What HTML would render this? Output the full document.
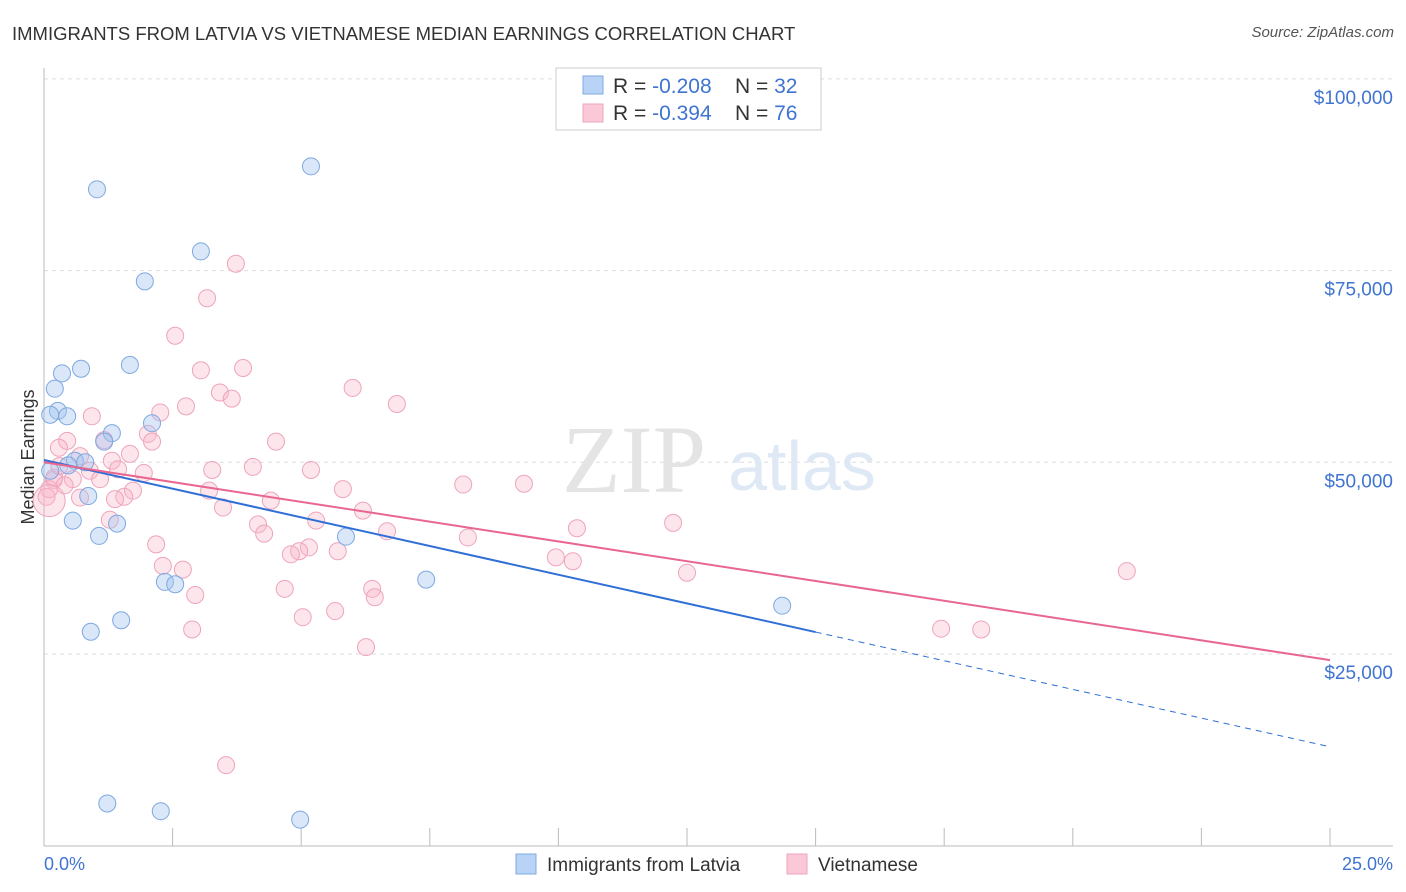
<!DOCTYPE html>
<html><head><meta charset="utf-8">
<style>
body{margin:0;background:#fff;font-family:"Liberation Sans",sans-serif;}
#wrap{position:relative;width:1406px;height:892px;overflow:hidden;}
.t{position:absolute;white-space:nowrap;}
</style></head>
<body>
<div id="wrap">
<div class="t" style="left:12px;top:23px;font-size:18.5px;color:#333;">IMMIGRANTS FROM LATVIA VS VIETNAMESE MEDIAN EARNINGS CORRELATION CHART</div>
<div class="t" style="right:12px;top:24px;font-size:15px;color:#555;font-style:italic;">Source: ZipAtlas.com</div>
<svg id="svg" width="1406" height="892" style="position:absolute;left:0;top:0"></svg>
</div>
<script>
const xTicksPct=[0,2.5,5,7.5,10,12.5,15,17.5,20,22.5,25];
const yTicks=[25000,50000,75000,100000];
const yTickLabels=["$25,000","$50,000","$75,000","$100,000"];
const latviaX=[1.03,5.19,3.05,1.96,1.67,0.72,0.35,0.21,0.27,0.12,0.45,2.1,1.32,1.17,0.6,0.8,0.47,0.12,0.86,0.56,1.42,1.07,5.87,2.35,2.55,7.43,14.35,1.5,0.91,1.23,2.27,4.98];
const latviaY=[85600,88600,77500,73600,62700,62200,61600,59600,56700,56200,56000,55100,53800,52700,50200,50000,49600,48900,45600,42400,42000,40400,40300,34400,34100,34700,31300,29400,27900,5500,4500,3400];
const vietX=[3.73,3.17,2.55,3.87,3.05,6.0,3.42,3.65,6.86,2.76,2.26,0.93,2.02,0.45,4.51,2.1,1.17,0.29,1.67,0.7,1.32,3.27,4.06,5.19,1.44,1.94,0.89,0.56,1.09,0.19,8.15,9.33,5.81,3.21,1.73,1.56,0.7,4.41,1.38,6.2,3.48,5.29,1.28,4.16,4.28,6.67,10.36,12.23,8.24,2.18,5.15,4.96,4.8,5.71,9.95,10.28,2.31,2.7,12.5,21.05,4.68,6.38,2.94,6.43,5.66,5.03,2.88,17.44,18.22,6.26,3.54,0.1,0.2,0.4,0.05,0.3];
const vietY=[75900,71400,66500,62300,62000,59700,59100,58300,57600,57300,56500,56000,53700,52800,52700,52700,52900,51900,51100,50800,50200,49000,49400,49000,49100,48600,48900,47800,47800,47700,47100,47200,46500,46300,46300,45500,45400,45000,45200,43700,44100,42400,42500,41900,40700,41000,41400,42100,40200,39300,38900,38400,38000,38400,37600,37100,36500,36000,35600,35800,33500,33500,32700,32400,30600,29800,28200,28300,28200,25900,10500,46500,48000,47000,45500,49500];
const trendBlue=[50300,12900];   // at 0% and 25%
const trendPink=[50000,24200];
const svg=document.getElementById('svg');const NS='http://www.w3.org/2000/svg';
const X=v=>44+v*51.44, Y=v=>654-(v-25000)*191.7/25000;
function mk(tag,at,name){const e=document.createElementNS(NS,tag);for(const k in at)e.setAttribute(k,at[k]);


svg.appendChild(e);return e;}
yTicks.forEach((v,i)=>{mk('line',{x1:44,x2:1393,y1:Y(v),y2:Y(v),stroke:'#ddd','stroke-dasharray':'4,4'},'gridline');
const t=mk('text',{x:1393,y:Y(v)+25,'text-anchor':'end','font-size':19,fill:'#3f74d1','font-family':'Liberation Sans'},'y-tick-label');t.textContent=yTickLabels[i];});
mk('line',{x1:44,x2:44,y1:68,y2:846,stroke:'#bbb'},'y-axis');
mk('line',{x1:44,x2:1393,y1:846,y2:846,stroke:'#bbb'},'x-axis');
xTicksPct.forEach(v=>mk('line',{x1:X(v),x2:X(v),y1:828,y2:846,stroke:'#bbb'},'x-tick'));
let t=mk('text',{x:44,y:870,'font-size':18,fill:'#3f74d1','font-family':'Liberation Sans'},'x-min-label');t.textContent='0.0%';
t=mk('text',{x:1393,y:870,'text-anchor':'end','font-size':18,fill:'#3f74d1','font-family':'Liberation Sans'},'x-max-label');t.textContent='25.0%';
t=mk('text',{x:34,y:457,'text-anchor':'middle','font-size':18,fill:'#333','font-family':'Liberation Sans',transform:'rotate(-90 34 457)'},'y-axis-title');t.textContent='Median Earnings';
t=mk('text',{x:634,y:492,'text-anchor':'middle','font-size':96,fill:'#e4e4e4','font-family':'Liberation Serif'},'watermark');t.textContent='ZIP';
t=mk('text',{x:802,y:490,'text-anchor':'middle','font-size':70,fill:'#dfe8f5','font-family':'Liberation Sans'},'watermark-atlas');t.textContent='atlas';
vietX.forEach((v,i)=>mk('circle',{cx:X(v),cy:Y(vietY[i]),r:8.5,fill:'rgba(248,180,200,0.35)',stroke:'#eea4bc','stroke-width':1},'vietnamese-point'));
mk('circle',{cx:X(0.1),cy:Y(45000),r:16,fill:'rgba(248,180,200,0.35)',stroke:'#eea4bc'},'vietnamese-point-large');
latviaX.forEach((v,i)=>mk('circle',{cx:X(v),cy:Y(latviaY[i]),r:8.5,fill:'rgba(160,195,240,0.4)',stroke:'#7fa8e0','stroke-width':1},'latvia-point'));
const bAt=p=>trendBlue[0]+(trendBlue[1]-trendBlue[0])*p/25;
mk('line',{x1:X(0),y1:Y(bAt(0)),x2:X(15),y2:Y(bAt(15)),stroke:'#2f6fd6','stroke-width':2},'latvia-trend');
mk('line',{x1:X(15),y1:Y(bAt(15)),x2:X(25),y2:Y(bAt(25)),stroke:'#2f6fd6','stroke-width':1,'stroke-dasharray':'6,5'},'latvia-trend-ext');
mk('line',{x1:X(0),y1:Y(trendPink[0]),x2:X(25),y2:Y(trendPink[1]),stroke:'#e8668f','stroke-width':2},'vietnamese-trend');
mk('rect',{x:556,y:68,width:265,height:62,fill:'#fff',stroke:'#ccc'},'legend-box');
mk('rect',{x:583,y:76,width:20,height:18,fill:'#b8d3f6',stroke:'#7fa8e0'},'legend-swatch-latvia');
mk('rect',{x:583,y:104,width:20,height:18,fill:'#fbc8d7',stroke:'#eea4bc'},'legend-swatch-vietnamese');
const leg=[[93,'-0.208','32'],[120,'-0.394','76']];
leg.forEach(l=>{let a=mk('text',{x:613,y:l[0],'font-size':21,fill:'#333','font-family':'Liberation Sans'},'legend-r');
a.innerHTML='R = <tspan fill="#3f74d1">'+l[1]+'</tspan>';
let b=mk('text',{x:735,y:l[0],'font-size':21,fill:'#333','font-family':'Liberation Sans'},'legend-n');
b.innerHTML='N = <tspan fill="#3f74d1">'+l[2]+'</tspan>';});
mk('rect',{x:516,y:854,width:20,height:20,fill:'#b8d3f6',stroke:'#7fa8e0'},'bottom-legend-swatch-latvia');
t=mk('text',{x:547,y:871,'font-size':19,fill:'#333','font-family':'Liberation Sans'},'bottom-legend-latvia');t.textContent='Immigrants from Latvia';
mk('rect',{x:787,y:854,width:20,height:20,fill:'#fbc8d7',stroke:'#eea4bc'},'bottom-legend-swatch-vietnamese');
t=mk('text',{x:818,y:871,'font-size':19,fill:'#333','font-family':'Liberation Sans'},'bottom-legend-vietnamese');t.textContent='Vietnamese';
</script>
</body></html>
